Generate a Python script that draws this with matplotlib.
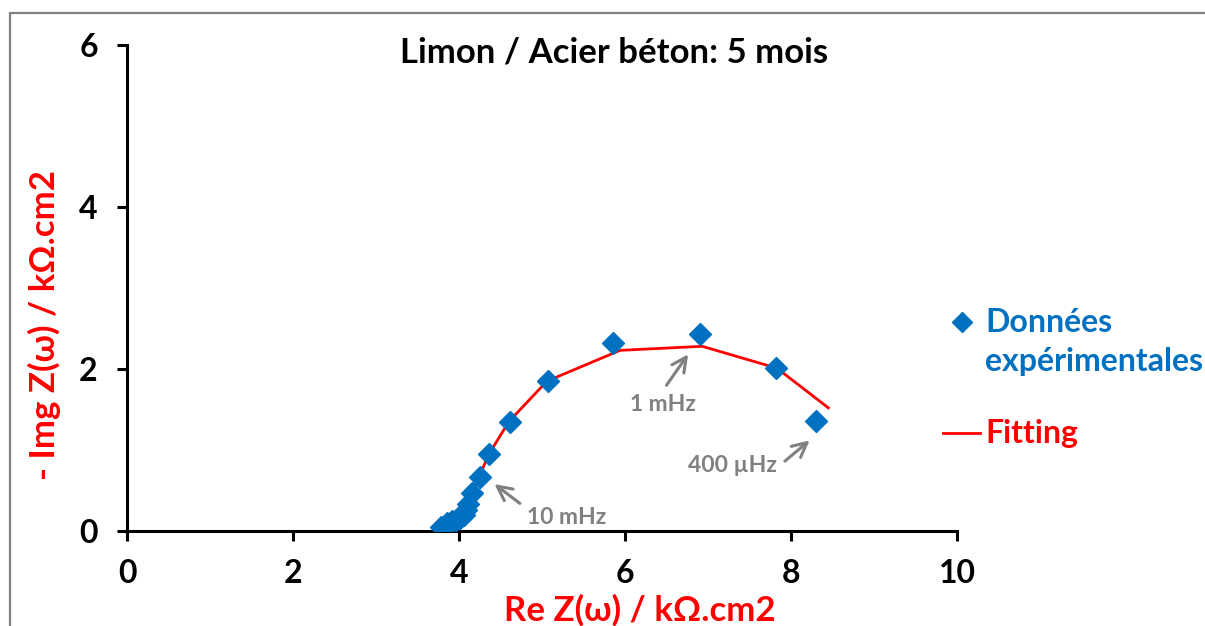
import numpy as np
import matplotlib
matplotlib.use("Agg")
from matplotlib import pyplot as plt
from matplotlib.patches import Rectangle
from matplotlib.lines import Line2D

plt.rcParams['font.family'] = ['Lato', 'DejaVu Sans']
plt.rcParams['font.weight'] = 'bold'

# experimental points (Re, -Im) in kOhm.cm2
re_exp = [3.78, 3.86, 3.92, 3.96, 4.01, 4.06, 4.08, 4.11, 4.16, 4.25, 4.36, 4.61, 5.07, 5.86, 6.90, 7.82, 8.30]
im_exp = [0.05, 0.10, 0.12, 0.14, 0.16, 0.20, 0.26, 0.33, 0.47, 0.67, 0.95, 1.34, 1.85, 2.32, 2.43, 2.01, 1.36]

# fitted curve
re_fit = [3.78, 3.86, 3.95, 4.02, 4.07, 4.11, 4.16, 4.24, 4.35, 4.60, 5.06, 5.94, 6.93, 7.83, 8.45]
im_fit = [0.05, 0.10, 0.13, 0.17, 0.24, 0.33, 0.47, 0.66, 0.93, 1.35, 1.85, 2.23, 2.28, 2.01, 1.52]

# frequency notes: text, arrow head, arrow tail, text position
notes = [("10 mHz", (4.40, 0.60), (4.76, 0.32), (5.30, 0.17)),
         ("1 mHz", (6.78, 2.21), (6.48, 1.77), (6.46, 1.56)),
         ("400 µHz", (8.25, 1.14), (7.90, 0.84), (7.30, 0.81))]

blue = "#0070C0"
red = "#FF0000"
grey = "#808080"
W, H = 1205, 626

fig = plt.figure(figsize=(12.05, 6.26), dpi=100)
ax = fig.add_axes([0.1054, 0.1518, 0.6888, 0.7763])

ax.plot(re_fit, im_fit, color=red, lw=2.0, zorder=2)
ax.plot(re_exp, im_exp, 'D', color=blue, ms=11, ls='none', zorder=3)

for txt, head, tail, pos in notes:
    ax.annotate("", xy=head, xytext=tail,
                arrowprops=dict(arrowstyle="->", color=grey, lw=2.2,
                                mutation_scale=26))
    ax.text(pos[0], pos[1], txt, color=grey, fontsize=16.5, fontweight='bold',
            ha='center', va='center')

ax.set_xlim(0, 10)
ax.set_ylim(0, 6)
ax.set_xticks([0, 2, 4, 6, 8, 10])
ax.set_yticks([0, 2, 4, 6])
for s in ['top', 'right']:
    ax.spines[s].set_visible(False)
for s in ['left', 'bottom']:
    ax.spines[s].set_linewidth(2.2)
ax.tick_params(direction='out', length=7, width=2.2, labelsize=23)
ax.tick_params(axis='x', pad=13)
ax.tick_params(axis='y', pad=14)

ax.set_xlabel("Re Z(ω) / kΩ.cm2", color=red, fontsize=25, fontweight='bold',
              va='center')
ax.xaxis.set_label_coords(0.618, -0.163)
ax.set_ylabel("- Img Z(ω) / kΩ.cm2", color=red, fontsize=25, fontweight='bold',
              va='center')
ax.yaxis.set_label_coords(-0.099, 0.424)

fig.text(614 / W, 1 - 52 / H, "Limon / Acier béton: 5 mois", fontsize=25,
         fontweight='bold', ha='center', va='center')

# legend drawn by hand to keep the Excel layout
fig.add_artist(Line2D([962 / W], [1 - 322 / H], marker='D', color=blue,
                      ms=10, transform=fig.transFigure))
fig.text(985 / W, 1 - 322 / H, "Données", color=blue, fontsize=23,
         fontweight='bold', va='center')
fig.text(985 / W, 1 - 362 / H, "expérimentales", color=blue, fontsize=23,
         fontweight='bold', va='center')
fig.add_artist(Line2D([943 / W, 980 / W], [1 - 433 / H, 1 - 433 / H],
                      color=red, lw=2.0, transform=fig.transFigure))
fig.text(985 / W, 1 - 433 / H, "Fitting", color=red, fontsize=23,
         fontweight='bold', va='center')

fig.patches.append(Rectangle((10 / W, -0.05), 1.1, 0.05 + 1 - 13 / H,
                             transform=fig.transFigure, fill=False,
                             edgecolor=grey, lw=1.6))

fig.savefig("out.png", dpi=100)
